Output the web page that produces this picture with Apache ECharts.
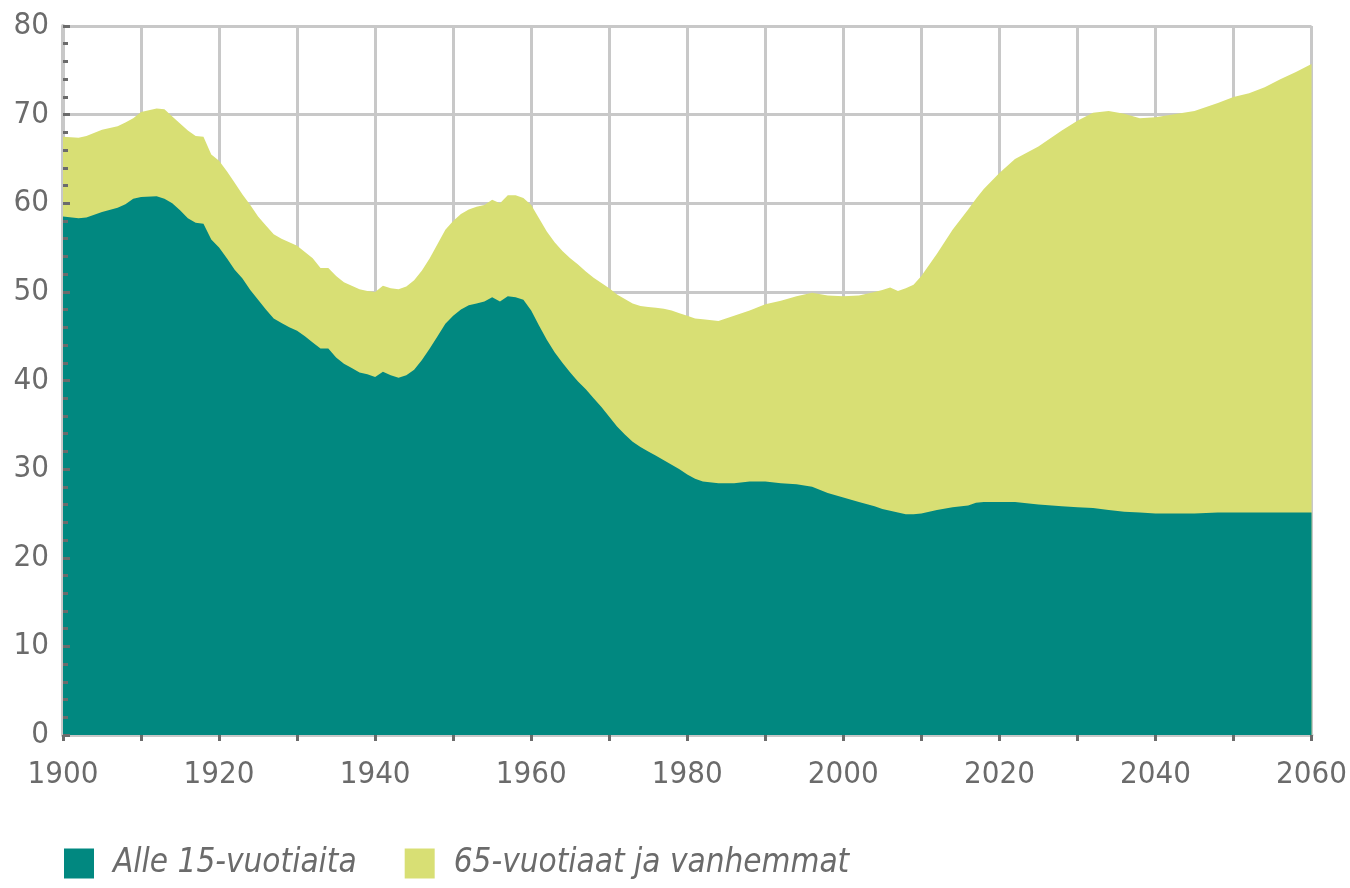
<!DOCTYPE html>
<html>
<head>
<meta charset="utf-8">
<script src="https://cdn.jsdelivr.net/npm/echarts@6/dist/echarts.min.js"></script>
<style>
  html, body { margin: 0; padding: 0; background: #fff; }
  #main { width: 1350px; height: 888px; }
</style>
</head>
<body>
<div id="main"></div>
<script>
// vuodet
var years = [1900,1902,1903,1905,1907,1908,1909,1910,1912,1913,1914,1915,1916,1917,1918,1919,
  1920,1921,1922,1923,1924,1925,1926,1927,1928,1929,1930,1931,1932,1933,1934,1935,1936,1937,1938,1939,
  1940,1941,1942,1943,1944,1945,1946,1947,1948,1949,1950,1951,1952,1953,1954,1955,1956,1957,1958,1959,
  1960,1961,1962,1963,1964,1965,1966,1967,1968,1969,1970,1971,1972,1973,1974,1975,1976,1977,1978,1979,
  1980,1981,1982,1984,1986,1988,1990,1992,1994,1996,1998,2000,2002,2004,2005,2006,2007,2008,2009,
  2010,2012,2014,2016,2017,2018,2020,2022,2025,2028,2030,2032,2034,2036,2038,2040,2042,2045,2048,
  2050,2052,2054,2056,2058,2060];

// alle 15-vuotiaat
var under15 = [58.5,58.3,58.4,59.0,59.5,59.9,60.5,60.7,60.8,60.5,60.0,59.2,58.3,57.8,57.7,55.9,
  55.0,53.8,52.5,51.5,50.2,49.1,48.0,47.0,46.5,46.0,45.6,45.0,44.3,43.6,43.6,42.6,41.9,41.4,40.9,40.7,
  40.4,41.0,40.6,40.3,40.6,41.2,42.3,43.6,45.0,46.4,47.3,48.0,48.5,48.7,48.9,49.4,48.9,49.5,49.4,49.1,
  47.9,46.2,44.6,43.2,42.0,40.9,39.9,39.0,38.0,37.0,35.9,34.8,33.9,33.1,32.5,32.0,31.5,31.0,30.5,30.0,
  29.4,28.9,28.6,28.4,28.4,28.6,28.6,28.4,28.3,28.0,27.3,26.8,26.3,25.8,25.5,25.3,25.1,24.9,24.9,
  25.0,25.4,25.7,25.9,26.2,26.3,26.3,26.3,26.0,25.8,25.7,25.6,25.4,25.2,25.1,25.0,25.0,25.0,25.1,
  25.1,25.1,25.1,25.1,25.1,25.1];

// 65 vuotta täyttäneet
var over65 = [9.0,9.1,9.2,9.3,9.2,9.2,9.1,9.6,9.9,10.1,9.8,9.8,9.9,9.8,9.8,9.6,
  9.8,9.8,9.8,9.5,9.6,9.4,9.5,9.5,9.5,9.6,9.6,9.5,9.5,9.1,9.1,9.2,9.2,9.3,9.4,9.4,
  9.6,9.7,9.8,10.0,10.0,10.1,10.1,10.2,10.4,10.6,10.7,10.8,10.8,10.9,10.9,11.0,11.1,11.4,11.5,11.5,
  11.9,12.1,12.2,12.4,12.6,12.9,13.2,13.3,13.6,14.0,14.5,14.9,15.3,15.6,15.9,16.3,16.7,17.1,17.4,17.6,
  17.9,18.1,18.3,18.3,18.9,19.3,20.0,20.6,21.2,21.9,22.3,22.7,23.3,24.2,24.7,25.2,25.0,25.5,25.9,
  26.8,28.9,31.3,33.4,34.3,35.3,37.1,38.7,40.4,42.4,43.6,44.6,45.0,44.9,44.5,44.7,45.0,45.4,46.2,
  46.9,47.3,48.0,48.9,49.7,50.6];

var seriesNames = ['Alle 15-vuotiaita', '65-vuotiaat ja vanhemmat'];
var xLabelYears = [1900, 1920, 1940, 1960, 1980, 2000, 2020, 2040, 2060];

var chart = echarts.init(document.getElementById('main'));

// yläreuna = alle 15 + yli 65 (pinottu)
var totalPairs = years.map(function (y, i) { return [y, +(under15[i] + over65[i]).toFixed(2)]; });
var under15Pairs = years.map(function (y, i) { return [y, under15[i]]; });

var fontFam = '"Liberation Sans Narrow", "DejaVu Sans Condensed", sans-serif';
var textCol = '#6b6b6b';

var option = {
  animation: false,
  backgroundColor: '#fff',
  grid: { left: 63, right: 37, top: 26, bottom: 153 },
  legend: {
    left: 59,
    top: 842,
    icon: 'rect',
    itemWidth: 30,
    itemHeight: 30,
    itemGap: 48,
    textStyle: {
      fontFamily: fontFam,
      fontStyle: 'italic',
      fontSize: 33,
      color: textCol,
      padding: [0, 0, 0, 14]
    },
    data: seriesNames
  },
  xAxis: {
    type: 'value',
    min: 1900,
    max: 2060,
    interval: 10,
    axisLine: { lineStyle: { color: '#c8c8c8', width: 4 } },
    axisTick: { show: true, length: 6, lineStyle: { color: '#6b6b6b', width: 3 } },
    axisLabel: {
      margin: 24,
      fontFamily: fontFam,
      fontSize: 31,
      color: textCol,
      formatter: function (v) { return xLabelYears.indexOf(v) >= 0 ? String(v) : ''; }
    },
    splitLine: { show: true, lineStyle: { color: '#c8c8c8', width: 3 } }
  },
  yAxis: [
    {
      type: 'value',
      min: 0,
      max: 80,
      interval: 10,
      axisLine: { show: true, lineStyle: { color: '#c8c8c8', width: 4 } },
      axisTick: { show: false },
      axisLabel: {
        margin: 14,
        fontFamily: fontFam,
        fontSize: 31,
        color: textCol
      },
      splitLine: { show: true, lineStyle: { color: '#c8c8c8', width: 3 } }
    },
    {
      // pelkät tikit alueiden päälle (oma kerros)
      type: 'value',
      position: 'left',
      min: 0,
      max: 80,
      interval: 10,
      zlevel: 1,
      z: 20,
      axisLine: { show: false },
      axisLabel: { show: false },
      splitLine: { show: false },
      axisTick: { show: true, inside: true, length: 7, lineStyle: { color: '#6b6b6b', width: 3 } },
      minorTick: { show: true, splitNumber: 5, length: 5, lineStyle: { color: '#6b6b6b', width: 3 } }
    }
  ],
  series: [
    {
      name: seriesNames[1],
      type: 'line',
      z: 2,
      showSymbol: false,
      lineStyle: { width: 0 },
      itemStyle: { color: '#d8df74' },
      areaStyle: { color: '#d8df74', opacity: 1 },
      data: totalPairs
    },
    {
      name: seriesNames[0],
      type: 'line',
      z: 3,
      showSymbol: false,
      lineStyle: { width: 0 },
      itemStyle: { color: '#018880' },
      areaStyle: { color: '#018880', opacity: 1 },
      data: under15Pairs
    }
  ]
};

chart.setOption(option);
</script>
</body>
</html>
